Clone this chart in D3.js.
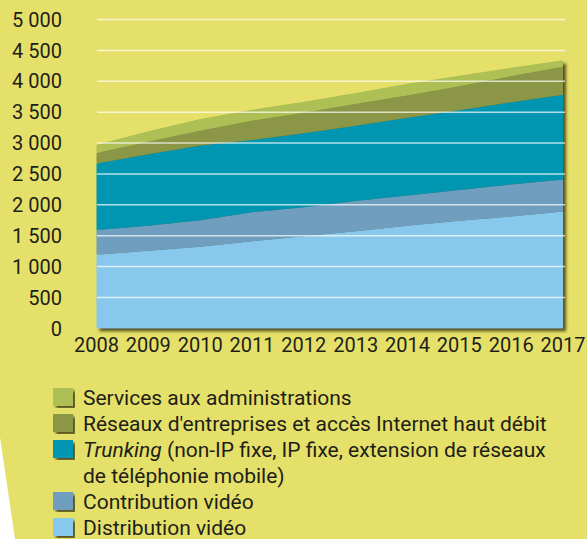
<!DOCTYPE html>
<head>
	<meta charset="UTF-8">
	<script src="https://d3js.org/d3.v7.min.js"></script>
	<title>Trafic par usage</title>
<style>
	body{
		margin: 0;
		background-color: rgb(229,224,105);
	}
	svg{
		display: block;
	}
</style>
</head>

<body>
	<svg width=587 height=539></svg>
</body>

<script>
	// Data (stacked bottom to top)
	var years = [2008, 2009, 2010, 2011, 2012, 2013, 2014, 2015, 2016, 2017];
	var distribution = [1190, 1255, 1320, 1410, 1490, 1570, 1660, 1740, 1810, 1890];
	var contribution = [400, 405, 430, 470, 470, 490, 490, 500, 520, 520];
	var trunking = [1080, 1160, 1210, 1170, 1200, 1220, 1260, 1290, 1330, 1370];
	var reseaux = [170, 200, 240, 310, 330, 350, 360, 390, 420, 455];
	var services = [130, 170, 190, 180, 180, 180, 190, 170, 140, 105];

	var yTicks = [0, 500, 1000, 1500, 2000, 2500, 3000, 3500, 4000, 4500, 5000];
	var yTickLabels = ["0", "500", "1 000", "1 500", "2 000", "2 500", "3 000", "3 500", "4 000", "4 500", "5 000"];

	var keys = ["distribution", "contribution", "trunking", "reseaux", "services"];
	var colors = {
		distribution: "rgb(135,200,236)",
		contribution: "rgb(112,158,190)",
		trunking: "rgb(0,150,178)",
		reseaux: "rgb(140,150,70)",
		services: "rgb(174,191,84)"
	};

	// Table for d3.stack
	var table = years.map(function(y, i){
		return {year: y, distribution: distribution[i], contribution: contribution[i],
				trunking: trunking[i], reseaux: reseaux[i], services: services[i]};
	});

	var svg = d3.select("svg");
	var font = "Roboto, 'Liberation Sans', sans-serif";
	var textColor = "rgb(30,30,25)";

	// Drop shadow used by the plot and the legend swatches
	var defs = svg.append("defs");
	var shadow = defs.append("filter")
					.attr("id", "shadow")
					.attr("x", "-5%").attr("y", "-5%")
					.attr("width", "115%").attr("height", "115%");
	shadow.append("feDropShadow")
			.attr("dx", 3).attr("dy", 3)
			.attr("stdDeviation", 1.6)
			.attr("flood-color", "rgb(60,55,15)")
			.attr("flood-opacity", 0.85);

	// White wedge bottom left
	svg.append("polygon")
		.attr("points", "0,437 15,539 0,539")
		.style("fill", "white");

	// Scales
	var x = d3.scaleLinear()
				.domain([2008, 2017])
				.range([96.5, 563]);
	var y = d3.scaleLinear()
				.domain([0, 5000])
				.range([328.3, 19.5]);

	var stacked = d3.stack().keys(keys)(table);

	var area = d3.area()
				.x(function(d) {return x(d.data.year)})
				.y0(function(d) {return y(d[0])})
				.y1(function(d) {return y(d[1])});

	// Areas
	var areas = svg.append("g")
					.attr("filter", "url(#shadow)");
	areas.selectAll("path")
			.data(stacked).enter()
			.append("path")
			.attr("d", area)
			.style("fill", function(d) {return colors[d.key]});

	// Gridlines on top of the areas
	svg.append("g")
		.selectAll("line")
		.data(yTicks.filter(function(t) {return t > 0})).enter()
		.append("line")
		.attr("x1", 97)
		.attr("x2", 565)
		.attr("y1", function(d) {return y(d)})
		.attr("y2", function(d) {return y(d)})
		.style("stroke", "white")
		.style("stroke-opacity", 0.7)
		.style("stroke-width", 1.5);

	// Y labels
	svg.append("g")
		.selectAll("text")
		.data(yTicks).enter()
		.append("text")
		.attr("x", 62)
		.attr("y", function(d) {return y(d)})
		.attr("dy", "0.36em")
		.attr("text-anchor", "end")
		.text(function(d, i) {return yTickLabels[i]})
		.attr("font-family", font)
		.attr("font-size", 20)
		.style("fill", textColor);

	// X labels
	svg.append("g")
		.selectAll("text")
		.data(years).enter()
		.append("text")
		.attr("x", function(d) {return x(d)})
		.attr("y", 352)
		.attr("text-anchor", "middle")
		.text(function(d) {return d})
		.attr("font-family", font)
		.attr("font-size", 20)
		.style("fill", textColor);

	// Legend
	var legendRows = [
		{key: "services", parts: [["Services aux administrations", false]]},
		{key: "reseaux", parts: [["Réseaux d'entreprises et accès Internet haut débit", false]]},
		{key: "trunking", parts: [["Trunking", true], [" (non-IP fixe, IP fixe, extension de réseaux", false]]},
		{key: null, parts: [["de téléphonie mobile)", false]]},
		{key: "contribution", parts: [["Contribution vidéo", false]]},
		{key: "distribution", parts: [["Distribution vidéo", false]]}
	];
	var legendTop = 397;
	var legendStep = 26;

	var legend = svg.append("g");
	legend.selectAll("rect")
			.data(legendRows.filter(function(r) {return r.key}))
			.enter()
			.append("rect")
			.attr("x", 53)
			.attr("y", function(d) {return legendTop + legendRows.indexOf(d) * legendStep - 9})
			.attr("width", 20)
			.attr("height", 18)
			.attr("filter", "url(#shadow)")
			.style("fill", function(d) {return colors[d.key]});

	var rows = legend.selectAll("text")
			.data(legendRows).enter()
			.append("text")
			.attr("x", 83)
			.attr("y", function(d, i) {return legendTop + i * legendStep})
			.attr("dy", "0.36em")
			.attr("font-family", font)
			.attr("font-size", 21)
			.style("fill", textColor);
	rows.selectAll("tspan")
		.data(function(d) {return d.parts}).enter()
		.append("tspan")
		.text(function(d) {return d[0]})
		.style("font-style", function(d) {return d[1] ? "italic" : "normal"});
</script>
